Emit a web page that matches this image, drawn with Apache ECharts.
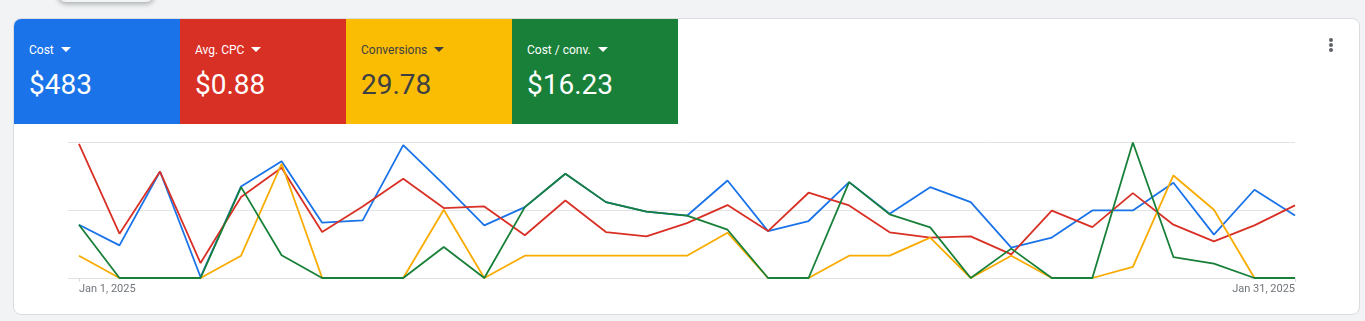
<!DOCTYPE html>
<html>
<head>
<meta charset="utf-8">
<script src="https://cdn.jsdelivr.net/npm/echarts@6/dist/echarts.min.js"></script>
<style>
  html, body { margin: 0; padding: 0; }
  body { width: 1365px; height: 321px; background: #f1f3f4; position: relative; overflow: hidden; font-family: Roboto, Arial, sans-serif; }
  .ghost { position: absolute; left: 58px; top: -40px; width: 96px; height: 42px; background: #f1f3f4; border-radius: 8px; box-shadow: 0 2px 5px rgba(60,64,67,.4); }
  .card { position: absolute; left: 13px; top: 18px; width: 1345px; height: 295px; background: #fff; border: 1px solid #dadce0; border-radius: 8px; overflow: hidden; }
  .tile { position: absolute; top: 0; height: 105px; width: 166px; color: #fff; }
  .tile .lbl { position: absolute; left: 15px; top: 24px; font-size: 12px; }
  .tile .lbl:after { content: ""; display: inline-block; margin-left: 7px; vertical-align: 2px; border-left: 5px solid transparent; border-right: 5px solid transparent; border-top: 5px solid currentColor; }
  .tile .val { position: absolute; left: 15px; top: 49px; font-size: 28px; }
  .menu { position: absolute; left: 1315px; top: 19px; width: 4px; }
  .menu i { display: block; width: 4px; height: 4px; border-radius: 2px; background: #5f6368; margin-bottom: 1px; }
  #chart { position: absolute; left: 0; top: 105px; width: 1345px; height: 190px; }
</style>
</head>
<body>
<div class="ghost"></div>
<div class="card">
  <div class="tile" style="left:0;background:#1a73e8"><div class="lbl">Cost</div><div class="val">$483</div></div>
  <div class="tile" style="left:166px;background:#d93025"><div class="lbl">Avg. CPC</div><div class="val">$0.88</div></div>
  <div class="tile" style="left:332px;background:#fbbc04;color:#3c4043"><div class="lbl">Conversions</div><div class="val">29.78</div></div>
  <div class="tile" style="left:498px;background:#188038"><div class="lbl">Cost / conv.</div><div class="val">$16.23</div></div>
  <div class="menu"><i></i><i></i><i></i></div>
  <div id="chart"></div>
</div>
<script>
// Jan 1 .. Jan 31, 2025 - each metric on its own relative scale (0-100 of chart height)
var days = ['Jan 1, 2025','Jan 2, 2025','Jan 3, 2025','Jan 4, 2025','Jan 5, 2025','Jan 6, 2025','Jan 7, 2025','Jan 8, 2025','Jan 9, 2025','Jan 10, 2025',
  'Jan 11, 2025','Jan 12, 2025','Jan 13, 2025','Jan 14, 2025','Jan 15, 2025','Jan 16, 2025','Jan 17, 2025','Jan 18, 2025','Jan 19, 2025','Jan 20, 2025',
  'Jan 21, 2025','Jan 22, 2025','Jan 23, 2025','Jan 24, 2025','Jan 25, 2025','Jan 26, 2025','Jan 27, 2025','Jan 28, 2025','Jan 29, 2025','Jan 30, 2025','Jan 31, 2025'];

var cost = [39.2, 24.0, 78.3, 0.7, 67.3, 85.9, 40.7, 42.4, 97.7, 68.8,
  38.7, 52.1, 76.7, 55.8, 48.8, 45.8, 71.7, 34.5, 41.9, 70.5,
  47.3, 66.8, 55.8, 22.3, 29.7, 49.7, 49.7, 70.0, 31.9, 64.9, 46.0];
var avgCpc = [98.7, 32.6, 78.3, 11.0, 59.5, 81.1, 33.8, 52.6, 73.0, 51.4,
  52.6, 31.4, 57.0, 33.8, 30.6, 40.4, 53.6, 34.5, 62.7, 53.4,
  33.6, 29.7, 30.6, 17.4, 49.5, 37.4, 62.4, 39.2, 26.9, 38.7, 53.4];
var conversions = [16.4, 0, 0, 0, 16.4, 84.0, 0, 0, 0, 50.2,
  0, 16.4, 16.4, 16.4, 16.4, 16.4, 33.3, 0, 0, 16.4,
  16.4, 29.7, 0, 16.4, 0, 0, 8.1, 75.4, 50.2, 0, 0];
var costPerConv = [39.2, 0, 0, 0, 66.8, 16.7, 0, 0, 0, 22.8,
  0, 52.1, 76.7, 55.8, 48.8, 45.8, 35.5, 0, 0, 70.5,
  46.8, 37.2, 0, 21.6, 0, 0, 99.6, 15.4, 10.6, 0, 0];

var chart = echarts.init(document.getElementById('chart'));

function pts(arr) {
  return arr.map(function (v, i) { return [i, v]; });
}
function line(name, color, arr) {
  return {
    name: name,
    type: 'line',
    symbol: 'none',
    lineStyle: { color: color, width: 1.8 },
    itemStyle: { color: color },
    data: pts(arr)
  };
}

var option = {
  animation: false,
  grid: { left: 54, right: 64, top: 18, bottom: 36 },
  xAxis: {
    type: 'value',
    min: -0.27,
    max: days.length - 1,
    axisLine: { show: false },
    splitLine: { show: false },
    axisTick: {
      show: true,
      customValues: [0, days.length - 1],
      length: 4,
      lineStyle: { color: '#dadce0' }
    },
    axisLabel: {
      customValues: [0, days.length - 1],
      formatter: function (v) { return days[Math.round(v)]; },
      color: '#70757a',
      fontSize: 11,
      fontFamily: 'Roboto',
      margin: 6,
      alignMinLabel: 'left',
      alignMaxLabel: 'right'
    }
  },
  yAxis: {
    type: 'value',
    min: 0,
    max: 100,
    interval: 50,
    axisLabel: { show: false },
    axisLine: { show: false },
    axisTick: { show: false },
    splitLine: { lineStyle: { color: '#e3e3e3', width: 1 } }
  },
  series: [
    line('Cost', '#1a73e8', cost),
    line('Avg. CPC', '#d93025', avgCpc),
    line('Conversions', '#f9ab00', conversions),
    line('Cost / conv.', '#188038', costPerConv)
  ]
};

chart.setOption(option);
</script>
</body>
</html>
